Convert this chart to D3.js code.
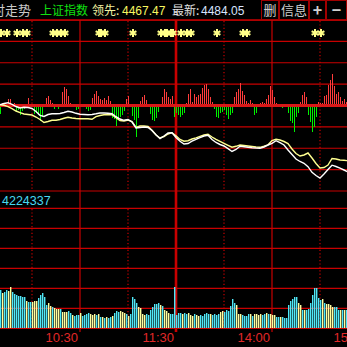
<!DOCTYPE html>
<html>
<head>
<meta charset="utf-8">
<script src="https://cdn.jsdelivr.net/npm/d3@7"></script>
<style>
html, body { margin: 0; padding: 0; background: #000; overflow: hidden; }
svg { display: block; }
text { font-family: "Noto Sans CJK SC", "Liberation Sans", sans-serif; }
.num { font-family: "Liberation Sans", Arial, sans-serif; }
</style>
</head>
<body>
<svg id="chart" width="347" height="347"></svg>
<script>
// header values
var indexName = '上证指数';
var leadValue = '4467.47';
var lastValue = '4484.05';
var volumeMaxLabel = '4224337';

// minutes from 9:30, grid every half hour
var timeTicks = [30, 60, 90, 120, 150, 180, 210];
var labelTicks = [60, 120, 180, 240];
var timeLabels = ['10:30', '11:30', '14:00', '15:00'];

// volume (10k lots), one bar per slot
var volumes = [
    114,105,108,114,111,123,108,102,99,96,96,93,93,81,78,78,78,81,81,90,
    99,105,93,69,75,66,63,60,57,57,57,48,48,48,51,45,39,36,39,39,
    45,36,39,42,45,
    42,39,42,39,42,33,33,30,33,30,33,36,45,51,48,51,48,45,42,36,
    42,93,87,75,63,60,42,39,42,39,54,63,72,72,75,69,66,54,51,45,42,42,
    123,39,45,45,42,45,42,45,39,36,42,39,36,39,36,42,45,42,42,39,
    42,39,42,48,51,48,54,51,66,87,75,69,42,42,39,36,36,42,42,36,
    42,42,39,42,39,42,45,42,42,39,39,33,33,33,33,30,30,69,81,87,
    93,93,75,69,54,54,54,57,75,99,120,120,90,84,87,75,72,72,69,63,
    63,63,54,54,54,54,54
];
// c = up (cyan), y = down (yellow)
var volumeColors = ('cyccyyccccccc' + 'ycc' + 'yyy' + 'ccccc' + 'yyc' + 'yyyc' + 'yyycc' + 'yccc' + 'ycccc' +
    'yyycy' + 'cycyccy' + 'ccc' + 'yyyc' + 'yc' + 'ccc' + 'yyyyc' + 'ccc' + 'cccyc' + 'yyy' + 'cc' +
    'c' + 'cccycc' + 'yyycyyc' + 'ccccycccc' + 'yy' + 'cccccc' + 'yyy' + 'ccccyc' + 'yyyyc' + 'cycyy' +
    'yccyc' + 'ccccccc' + 'yyc' + 'ycc' + 'ccccccy' + 'cy' + 'yyy' + 'ccc' + 'ycyc').split('');

// buy/sell strength bars
var strength = [
    -8,3,3,2,7,7,0,3,-6,-4,
    -9,-5,-3,0,8,0,2,-8,-7,-9,
    -15,-11,0,8,10,6,3,-3,0,-3,
    0,14,19,17,10,3,2,0,-4,-3,
    1,0,0,-3,-5,-4,8,12,15,10,
    7,6,8,6,10,5,-12,-13,-20,-14,
    -11,-9,-5,7,10,0,-10,-14,-31,-12,
    5,9,11,6,0,-8,-14,-15,-12,-6,
    2,9,17,14,9,7,10,
    -11,-7,-9,-11,-9,-7,3,12,17,4,
    12,9,11,12,18,21,22,17,9,4,
    -3,-11,-12,-7,-6,-4,-9,-13,-9,-7,
    9,14,17,23,15,11,5,3,6,3,
    -9,-7,2,3,4,3,7,11,20,16,
    9,3,2,-1,-2,-1,-1,-7,-15,-17,
    -26,-11,-7,4,11,14,9,-9,-16,-26,
    -21,-11,4,3,3,10,11,21,26,32,
    20,12,14,9,5,7,4
];

// index price (white) and leading index (yellow)
var priceLine = [
    4618.6,4621,4622.6,4619.4,4615,4612,4613.6,4613,4611,4605,
    4597.4,4595,4599,4600.4,4600.6,4601,4603,4605.4,4604,4601.4,
    4599.4,4599,4598.6,4599,4600.4,4602,4602,4601.6,4600.6,4594.6,
    4590,4587.4,4589,4584,4572,4573,4574,4573,4567,4558.6,
    4550.6,4556,4562,4562.6,4553,4545.6,4540,4541,4545.6,4549.4,
    4552.6,4556,4557.4,4549,4543,4539,4536,4530.6,4525,4529,
    4535.4,4534.6,4533.4,4532.6,4532,4531.6,4534,4538,4541.4,4546.6,
    4542.6,4538,4528,4519,4510,4505,4501.4,4494.6,4483.4,4477,
    4472,4480,4489,4497.6,4495,4491.6,4488,4484.05
];
var leadLine = [
    4618.6,4617.4,4614.6,4610.6,4606,4602.6,4600,4599,4598,4594,
    4589,4583,4585,4587.4,4587.4,4589,4591.4,4593.4,4592,4591,
    4590.6,4590.6,4590.6,4589.4,4594.6,4597,4598.6,4598.6,4598.6,4592.6,
    4587,4586,4588,4585,4573.4,4576,4576,4575,4567.4,4558,
    4552,4555,4560,4562.6,4556.4,4549,4545.6,4546.6,4550,4552.4,
    4555.4,4558,4559.4,4554,4549.4,4545.4,4541.4,4537.4,4533.6,4535.4,
    4538,4537,4536,4535,4534,4533.4,4535.6,4538.4,4547,4549.4,
    4548,4545,4541,4530,4521,4516,4518,4522,4512,4501,
    4492,4493,4498,4511,4510,4508,4507.4,4506.6
];

// slots with event markers
var starSlots = [0,3,8,11,13,26,28,30,32,49,50,52,66,80,82,83,85,86,90,93,95,108,121,123,157,160];

var svg = d3.select('#chart');
var W = 347;
var GRID = '#c80000';

var x = d3.scaleLinear().domain([0, 240]).range([-16, 368]);
var slotX = d3.scaleLinear().domain([0, volumes.length - 1]).range([0, 346]);
var lineX = d3.scaleLinear().domain([0, priceLine.length - 1]).range([0, 348]);
var yPrice = d3.scaleLinear().domain([4617, 4446]).range([105.5, 191]);
var yStrength = d3.scaleLinear().domain([0, 40]).range([105.5, 65.5]);
var yVol = d3.scaleLinear().domain([0, 409]).range([328, 191.7]);

svg.append('rect').attr('width', W).attr('height', W).attr('fill', '#000');

// horizontal grid
var hMain = d3.range(9).map(function(k) {return 20 + k * 21.375;});
var hVol = d3.range(7).map(function(k) {return 208.3 + k * 20;});
svg.append('g')
    .selectAll('line')
    .data(hMain.concat(hVol))
    .enter()
    .append('line')
    .attr('x1', 0).attr('x2', W)
    .attr('y1', function(d) {return d;})
    .attr('y2', function(d) {return d;})
    .style('stroke', GRID)
    .style('stroke-width', 1.2);

// vertical grid
var vg = svg.append('g');
timeTicks.forEach(function(t) {
    var xx = x(t);
    if(t % 60 == 0) {
        vg.append('line')
            .attr('x1', xx).attr('x2', xx)
            .attr('y1', 20).attr('y2', 332)
            .style('stroke', GRID)
            .style('stroke-width', t == 120 ? 2.6 : 1.2);
    } else {
        [[21, 190], [209, 327]].forEach(function(r) {
            vg.append('line')
                .attr('x1', xx).attr('x2', xx)
                .attr('y1', r[0]).attr('y2', r[1])
                .style('stroke', GRID)
                .style('stroke-width', 1.2)
                .style('stroke-dasharray', '1.2,2.2');
        });
    }
});

// event markers
var star = d3.symbol().type(d3.symbolAsterisk).size(42);
svg.append('g')
    .selectAll('path')
    .data(starSlots)
    .enter()
    .append('path')
    .attr('d', star)
    .attr('transform', function(d) {return 'translate(' + (slotX(d) + 1) + ',33)';})
    .style('fill', 'none')
    .style('stroke', '#ffff88')
    .style('stroke-width', 2);

// strength bars
svg.append('g')
    .attr('shape-rendering', 'crispEdges')
    .selectAll('rect')
    .data(strength)
    .enter()
    .append('rect')
    .attr('x', function(d, i) {return slotX(i);})
    .attr('width', 1)
    .attr('y', function(d) {return d > 0 ? yStrength(d) : yStrength(0);})
    .attr('height', function(d) {return Math.abs(yStrength(d) - yStrength(0));})
    .style('fill', function(d) {return d > 0 ? '#ff3c3c' : '#00f000';});

svg.append('line')
    .attr('x1', 0).attr('x2', W)
    .attr('y1', yStrength(0)).attr('y2', yStrength(0))
    .style('stroke', '#d81818')
    .style('stroke-width', 3);

// price lines
var line = d3.line()
    .x(function(d, i) {return lineX(i);})
    .y(function(d) {return yPrice(d);})
    .curve(d3.curveLinear);
svg.append('path')
    .datum(leadLine)
    .attr('d', line)
    .style('fill', 'none')
    .style('stroke', '#ffff90')
    .style('stroke-width', 1.4);
svg.append('path')
    .datum(priceLine)
    .attr('d', line)
    .style('fill', 'none')
    .style('stroke', '#ffffff')
    .style('stroke-width', 1.4);

// volume bars
svg.append('g')
    .selectAll('rect')
    .data(volumes)
    .enter()
    .append('rect')
    .attr('x', function(d, i) {return slotX(i);})
    .attr('width', 1.4)
    .attr('y', function(d) {return Math.round(yVol(d));})
    .attr('height', function(d) {return yVol(0) - Math.round(yVol(d));})
    .style('fill', function(d, i) {return volumeColors[i] == 'c' ? '#50e8f8' : '#ffffa0';});

svg.append('text')
    .attr('class', 'num')
    .attr('x', 2).attr('y', 205)
    .style('font-size', '12.5px')
    .style('fill', '#48d8f0')
    .text(volumeMaxLabel);

// time axis labels
svg.append('g')
    .selectAll('text')
    .data(labelTicks)
    .enter()
    .append('text')
    .attr('class', 'num')
    .attr('x', function(d) {return x(d) - 2;})
    .attr('y', 342)
    .attr('text-anchor', 'end')
    .style('font-size', '13px')
    .style('fill', '#e02828')
    .text(function(d, i) {return timeLabels[i];});

// header
var head = svg.append('g');
head.append('rect').attr('width', W).attr('height', 20).attr('fill', '#000');
head.append('line')
    .attr('x1', 0).attr('x2', W).attr('y1', 20).attr('y2', 20)
    .style('stroke', GRID).style('stroke-width', 1.5);

function headText(s, xx, color, cls, anchor) {
    return head.append('text')
        .attr('class', cls || null)
        .attr('x', xx).attr('y', 15)
        .attr('text-anchor', anchor || 'start')
        .style('font-size', '12px')
        .style('fill', color)
        .text(s);
}
headText('分时走势', 31, '#c8c8c8', null, 'end').style('font-size', '13px');
headText(indexName, 40, '#10e010');
headText('领先:', 92, '#f0f0a0');
headText(leadValue, 122, '#f8f860', 'num');
headText('最新:', 172, '#e0e0e0');
headText(lastValue, 201, '#d8e4ff', 'num');

var buttons = [[261, 279, '删'], [279, 309, '信息'], [309, 326, '+'], [326, 347, '−']];
buttons.forEach(function(b) {
    head.append('rect')
        .attr('x', b[0] + 0.5).attr('y', 0.5)
        .attr('width', b[1] - b[0] - 1).attr('height', 19)
        .style('fill', 'none')
        .style('stroke', '#a00000');
    var t = headText(b[2], (b[0] + b[1]) / 2, '#d0d0d0', null, 'middle').style('font-size', '13px');
    if(b[2] == '+' || b[2] == '−')
        t.style('font-size', '16px').style('font-weight', 'bold').attr('y', 16);
});
</script>
</body>
</html>
